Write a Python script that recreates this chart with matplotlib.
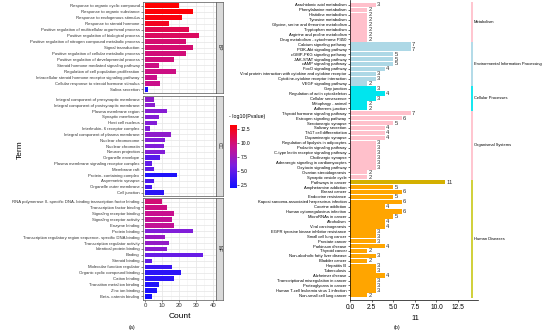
import matplotlib
matplotlib.use("Agg")
import matplotlib.pyplot as plt
from matplotlib.colors import LinearSegmentedColormap, Normalize
from matplotlib.cm import ScalarMappable
import numpy as np

plt.rcParams['font.family'] = ['Liberation Sans Narrow', 'Liberation Sans', 'DejaVu Sans']

# ---- GO data (panel a) ----
bp_terms = ["Response to organic cyclic compound", "Response to organic substance",
            "Response to endogenous stimulus", "Response to steroid hormone",
            "Positive regulation of multicellular organismal process",
            "Positive regulation of biological process",
            "Positive regulation of nitrogen compound metabolic process", "Signal transduction",
            "Positive regulation of cellular metabolic process",
            "Positive regulation of developmental process",
            "Steroid hormone mediated signaling pathway",
            "Regulation of cell population proliferation",
            "Intracellular steroid hormone receptor signaling pathway",
            "Cellular response to steroid hormone stimulus", "Saliva secretion"]
bp_count = [20, 28, 22, 14, 26, 32, 24, 28, 24, 17, 8, 18, 7, 9, 2]
bp_logp = [13.2, 13.0, 12.8, 12.3, 11.0, 10.6, 10.1, 10.1, 9.9, 9.8, 9.6, 9.6, 9.4, 9.4, 2.3]

cc_terms = ["Integral component of presynaptic membrane", "Integral component of postsynaptic membrane",
            "Plasma membrane region", "Synaptic membrane", "Host cell nucleus",
            "Interleukin- 6 receptor complex", "Integral component of plasma membrane",
            "Nuclear chromosome", "Nuclear chromatin", "Neuron projection", "Organelle envelope",
            "Plasma membrane signaling receptor complex", "Membrane raft",
            "Protein- containing complex", "Asymmetric synapse", "Organelle outer membrane",
            "Cell junction"]
cc_count = [5, 6, 13, 8, 7, 3, 15, 12, 11, 12, 9, 4, 5, 19, 5, 4, 11]
cc_logp = [6.8, 6.6, 6.5, 6.4, 6.3, 6.2, 6.8, 6.3, 6.2, 6.3, 4.6, 5.0, 5.0, 2.6, 4.2, 4.0, 3.0]

mf_terms = ["RNA polymerase II- specific DNA- binding transcription factor binding",
            "Transcription factor binding", "Signaling receptor binding",
            "Signaling receptor activity", "Enzyme binding", "Protein binding",
            "Transcription regulatory region sequence- specific DNA binding",
            "Transcription regulator activity", "Identical protein binding", "Binding",
            "Steroid binding", "Molecular function regulator",
            "Organic cyclic compound binding", "Cation binding",
            "Transition metal ion binding", "Zinc ion binding", "Beta- catenin binding"]
mf_count = [10, 13, 17, 16, 17, 28, 12, 14, 13, 34, 4, 16, 21, 17, 8, 7, 4]
mf_logp = [10.0, 9.6, 9.3, 9.0, 9.0, 6.2, 7.2, 7.0, 6.6, 5.2, 5.0, 3.6, 3.0, 3.0, 2.6, 2.5, 2.2]

# ---- KEGG data (panel b) ----
categories = ["Metabolism", "Environmental Information Processing", "Cellular Processes",
              "Organismal Systems", "Human Diseases"]
kegg_terms = [
    ["Arachidonic acid metabolism", "Phenylalanine metabolism", "Histidine metabolism",
     "Tyrosine metabolism", "Glycine, serine and threonine metabolism", "Tryptophan metabolism",
     "Arginine and proline metabolism", "Drug metabolism - cytochrome P450"],
    ["Calcium signaling pathway", "PI3K-Akt signaling pathway", "cGMP-PKG signaling pathway",
     "JAK-STAT signaling pathway", "cAMP signaling pathway", "FoxO signaling pathway",
     "Viral protein interaction with cytokine and cytokine receptor",
     "Cytokine-cytokine receptor interaction", "VEGF signaling pathway"],
    ["Gap junction", "Regulation of actin cytoskeleton", "Cellular senescence",
     "Mitophagy - animal", "Adherens junction"],
    ["Thyroid hormone signaling pathway", "Estrogen signaling pathway", "Serotonergic synapse",
     "Salivary secretion", "Th17 cell differentiation", "Dopaminergic synapse",
     "Regulation of lipolysis in adipocytes", "Prolactin signaling pathway",
     "C-type lectin receptor signaling pathway", "Cholinergic synapse",
     "Adrenergic signaling in cardiomyocytes", "Oxytocin signaling pathway",
     "Ovarian steroidogenesis", "Synaptic vesicle cycle"],
    ["Pathways in cancer", "Amphetamine addiction", "Breast cancer", "Endocrine resistance",
     "Kaposi sarcoma-associated herpesvirus infection", "Cocaine addiction",
     "Human cytomegalovirus infection", "MicroRNAs in cancer", "Alcoholism",
     "Viral carcinogenesis", "EGFR tyrosine kinase inhibitor resistance",
     "Small cell lung cancer", "Prostate cancer", "Parkinson disease", "Thyroid cancer",
     "Non-alcoholic fatty liver disease", "Bladder cancer", "Hepatitis B", "Tuberculosis",
     "Alzheimer disease", "Transcriptional misregulation in cancer", "Proteoglycans in cancer",
     "Human T-cell leukemia virus 1 infection", "Non-small cell lung cancer"],
]
kegg_counts = [
    [3, 2, 2, 2, 2, 2, 2, 2],
    [7, 7, 5, 5, 5, 4, 3, 3, 2],
    [3, 4, 3, 2, 2],
    [7, 6, 5, 4, 4, 4, 3, 3, 3, 3, 3, 3, 2, 2],
    [11, 5, 6, 5, 6, 4, 6, 5, 4, 4, 3, 3, 3, 4, 2, 3, 2, 3, 3, 4, 3, 3, 3, 2],
]
bar_colors = ['#FFC0CB', '#ADD8E6', '#00E5EE', '#FFC0CB', '#FFA500']
line_colors = ['#FFC0CB', '#ADD8E6', '#00E5EE', '#FFC0CB', '#CDCD2A']

W, H = 550, 334
fig = plt.figure(figsize=(W / 100, H / 100), dpi=100)


def rect(x0, y0, x1, y1):
    return [x0 / W, 1 - y1 / H, (x1 - x0) / W, (y1 - y0) / H]


cmap = LinearSegmentedColormap.from_list(
    "gr", [(0, '#1010FF'), (0.35, '#7A1FE0'), (0.65, '#C8108F'), (1, '#FF0000')])
norm = Normalize(vmin=2.0, vmax=13.2)

# ---- panel (a) facets ----
facets = [("BP", bp_terms, bp_count, bp_logp, 2, 93),
          ("CC", cc_terms, cc_count, cc_logp, 96, 196),
          ("MF", mf_terms, mf_count, mf_logp, 198, 300)]
for k, (name, terms, cnt, lp, y0, y1) in enumerate(facets):
    ax = fig.add_axes(rect(143, y0, 216, y1))
    n = len(terms)
    ypos = np.arange(n)
    ax.barh(ypos, cnt, height=0.75, color=cmap(norm(np.array(lp))), zorder=3)
    ax.set_ylim(n - 0.4, -0.6)
    ax.set_xlim(-1.2, 41.8)
    ax.set_yticks(ypos)
    ax.set_yticklabels(terms, fontsize=3.1)
    ax.set_xticks([0, 10, 20, 30, 40])
    ax.set_xticks([5, 15, 25, 35], minor=True)
    ax.grid(True, which='major', color='#E5E5E5', lw=0.5, zorder=0)
    ax.grid(True, which='minor', axis='x', color='#F2F2F2', lw=0.4, zorder=0)
    ax.tick_params(axis='both', length=1.5, width=0.4, pad=1, colors='#333333')
    ax.tick_params(axis='x', which='minor', length=0)
    if k < 2:
        ax.tick_params(axis='x', labelbottom=False, length=0)
    else:
        ax.tick_params(axis='x', labelsize=4.3)
    for s in ax.spines.values():
        s.set_color('#555555')
        s.set_linewidth(0.5)
    st = fig.add_axes(rect(216, y0, 223, y1))
    st.set_facecolor('#D9D9D9')
    st.set_xticks([])
    st.set_yticks([])
    for s in st.spines.values():
        s.set_color('#555555')
        s.set_linewidth(0.5)
    st.text(0.5, 0.5, name, rotation=270, ha='center', va='center', fontsize=3.5,
            color='#1A1A1A', transform=st.transAxes)

cax = fig.add_axes(rect(230, 125, 237, 188))
cb = fig.colorbar(ScalarMappable(norm=norm, cmap=cmap), cax=cax, ticks=[2.5, 5.0, 7.5, 10.0, 12.5])
cb.outline.set_visible(False)
cb.ax.tick_params(labelsize=3.5, length=1.5, width=0.4, pad=1)
cb.ax.set_yticklabels(["2.5", "5.0", "7.5", "10.0", "12.5"])
fig.text(229 / W, 1 - 116 / H, "- log10(Pvalue)", fontsize=3.8, ha='left', va='center')

fig.text(20 / W, 1 - 150 / H, "Term", rotation=90, fontsize=6, ha='center', va='center')
fig.text(180 / W, 1 - 316 / H, "Count", fontsize=6, ha='center', va='center')
fig.text(132 / W, 1 - 327 / H, "(a)", fontsize=3.8, ha='center', va='center')

# ---- panel (b) ----
axb = fig.add_axes(rect(350, 0, 478, 300))
labels, values, colors = [], [], []
groups = []
start = 0
for ci, (terms, cnts) in enumerate(zip(kegg_terms, kegg_counts)):
    for t, c in zip(terms, cnts):
        labels.append(t)
        values.append(c)
        colors.append(bar_colors[ci])
    groups.append((start, start + len(terms) - 1))
    start += len(terms)
colors[labels.index("Pathways in cancer")] = '#D4B000'
ypos = np.arange(len(labels))
axb.barh(ypos, values, height=0.9, color=colors, zorder=2)
for y, v in zip(ypos, values):
    axb.text(v + 0.15, y, str(v), fontsize=4.2, va='center', ha='left', color='#333333')
axb.set_ylim(len(labels) - 0.04, -1.0)
axb.set_xlim(0, 14.8)
axb.set_yticks(ypos)
axb.set_yticklabels(labels, fontsize=3.0)
axb.set_xticks([0, 2.5, 5.0, 7.5, 10.0, 12.5])
axb.set_xticklabels(["0.0", "2.5", "5.0", "7.5", "10.0", "12.5"])
axb.tick_params(axis='y', length=1.5, width=0.4, pad=1)
axb.tick_params(axis='x', labelsize=4.8, length=1.5, width=0.4, pad=1.5)
axb.spines['top'].set_visible(False)
axb.spines['right'].set_visible(False)
for s in ('left', 'bottom'):
    axb.spines[s].set_linewidth(0.5)
for ci, (g0, g1) in enumerate(groups):
    axb.vlines(14.1, g0 - 0.5, g1 + 0.5, color=line_colors[ci], lw=1.3, clip_on=False)
    axb.text(14.3, (g0 + g1) / 2, categories[ci], fontsize=2.9, va='center', ha='left',
             clip_on=False)

fig.text(415 / W, 1 - 318 / H, "11", fontsize=5.5, ha='center', va='center')
fig.text(397 / W, 1 - 327 / H, "(b)", fontsize=3.8, ha='center', va='center')

fig.savefig("out.png", dpi=100)
